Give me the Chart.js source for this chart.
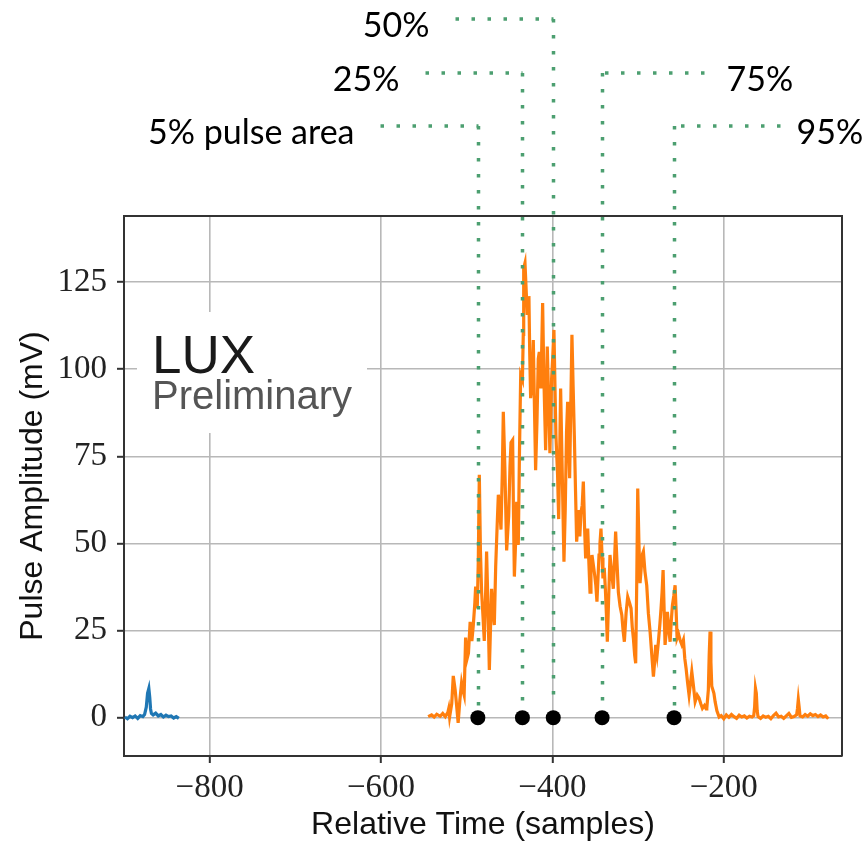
<!DOCTYPE html>
<html>
<head>
<meta charset="utf-8">
<title>Pulse Amplitude</title>
<script src="https://cdn.jsdelivr.net/npm/chart.js@4.4.1/dist/chart.umd.min.js"></script>
<style>
  html, body { margin: 0; padding: 0; background: #fff; }
  canvas { display: block; }
</style>
</head>
<body>
<canvas id="pulse" width="865" height="848"></canvas>
<script>
// baseline trace (blue), early window
const baseX = [-899, -896, -893, -890, -887, -884, -881, -878, -876, -874, -872.5, -871, -870, -869, -868, -866, -863, -860, -857, -854, -851, -848, -845, -842, -839, -836];
const baseY = [0.2, -0.3, 0.4, 0, 0.5, -0.2, 0.6, 0.3, 0.9, 3, 7, 8.4, 6, 2.5, 1.2, 0.8, 1.3, 0.5, 0.9, 0.2, 0.7, 0.3, 0.5, -0.1, 0.3, -0.2];

// main pulse trace (orange)
const pulseX = [
  -545, -541, -538, -535, -531, -528, -525, -522, -521, -520,
  -517.5, -515.7, -513.5, -511.8, -510, -508, -506, -504.5, -503, -501.3,
  -499.5, -498, -496, -494, -492.3, -490.5, -489.6, -487.7, -486.5, -485.3,
  -484, -482.6, -481, -479.5, -478, -476.8, -475, -473.6, -472, -471,
  -469.5, -467.8, -466.2, -464.5, -463.1, -461.5, -460, -458.5, -457.3, -455.5,
  -453.4, -451, -449.5, -448.3, -446.4, -445.5, -444.4, -443, -441.7, -439.8,
  -438.5, -437, -435, -434, -433.5, -432, -430.5, -429.3, -428.3, -427.4,
  -426.5, -425.4, -424, -422.3, -421, -419.6, -418, -416.5, -415.3, -413.4,
  -412.3, -411.4, -410, -407.9, -406, -404.5, -402.9, -400.9, -399.5, -398.2,
  -397, -395.9, -394, -392.7, -391.5, -390.4, -388.5, -386.5, -385, -383.5,
  -382.2, -381, -379.9, -378.5, -377.2, -375.8, -374.4, -373, -371.7, -370.5,
  -369.4, -368, -366.6, -365.2, -363.9, -362.5, -361.2, -360, -358.8, -357.5,
  -356.1, -355, -353.8, -352.3, -350.7, -349.3, -348, -346.8, -345.6, -344.5,
  -343.3, -342, -341, -339.5, -338.2, -337, -335.9, -334.5, -332.8, -331,
  -328.9, -327.5, -326.2, -324.5, -323, -321, -319, -317.5, -316, -314,
  -312.1, -310, -308.2, -306.8, -305.5, -304, -302.8, -301.5, -300.4, -299,
  -297.7, -296, -294.8, -293.8, -292, -289.9, -288, -286, -284, -282.1,
  -280.7, -279.4, -277.8, -276.3, -274.5, -273.2, -272, -270.8, -269.5, -268.5,
  -267, -265.8, -264, -262.6, -261.2, -259.9, -258.3, -256.8, -255.5, -254.5,
  -252.8, -251, -249, -247.1, -245.5, -244, -242.2, -240.5, -238.8, -237.3,
  -235.3, -233.4, -231, -228.8, -226.8, -224.9, -222.5, -220.5, -219.8, -218,
  -217, -216, -215, -214, -213.2, -211.5, -210.1, -208, -205.4, -203,
  -200, -197, -194, -191, -188, -185, -182, -179, -176, -173,
  -170, -167, -165, -164, -163, -162, -161, -160, -157, -154,
  -151, -148, -145, -142, -139, -136, -133, -130, -127, -124,
  -121, -118, -115, -114, -113, -112, -111, -108, -105, -102,
  -99, -96, -93, -90, -87, -84, -81, -78
];
const pulseY = [
  0.3, 0.8, 0.2, 1.0, 0.4, 1.2, 0.3, 1.5, 2.6, 0.2,
  4, 12, 8, 3.5, -1.5, 5, 10, 8, 6.5, 23,
  17, 18.5, 27.5, 22, 26.6, 33, 37.6, 31.4, 45, 69.7,
  48, 36, 29, 22, 35, 47.7, 30, 13.7, 28, 37,
  31, 26.6, 43.3, 55, 64, 60, 54, 70, 87.8, 72,
  48, 58, 72, 79, 79.7, 60, 40.5, 50, 62, 49.6,
  75, 98.4, 97, 110, 129, 130.5, 122, 115.6, 119, 121,
  105, 91.7, 95, 108.4, 90, 71, 85, 103, 105, 94.5,
  108, 119, 98, 76.8, 106.5, 92, 75.9, 97.4, 104, 111.3,
  95, 81, 70, 57, 75, 94.5, 70, 44.8, 60, 82,
  90.7, 80, 68.7, 90, 109.9, 95, 81, 65, 50.5, 55,
  59.6, 52, 59, 61, 67.8, 55, 45.7, 50, 54.3, 45,
  36, 42, 46.7, 44, 41, 38, 33.3, 40, 46.7, 50,
  54.3, 46, 40, 43, 37, 30, 21.8, 33, 46.7, 42,
  37, 45, 53.4, 44, 36, 32, 29.5, 25, 21.8, 30,
  34.7, 33, 31.4, 26, 22.8, 18, 15.6, 40, 65.8, 50,
  38.6, 44, 47, 47.7, 42, 38, 30, 24.7, 18, 11.8,
  16, 20.9, 18, 21.8, 27, 31.4, 36, 42.4, 30, 20.9,
  25, 30.4, 25, 21.8, 28, 32.3, 35, 38, 30, 22.8,
  24, 22.3, 21, 22.3, 17, 14.2, 10, 6.5, 10, 13.2,
  9, 4.6, 6.5, 5.6, 4, 2.7, 3.5, 2.5, 2.7, 8,
  18, 24.7, 16, 9, 8.4, 7, 4.6, 2, 0.2, 0.6,
  -0.3, 0.8, 0.1, 0.9, 0.3, -0.2, 0.7, 0.2, 0.5, -0.1,
  0.4, 0.2, 0.6, 3, 8.4, 7, 2, 0.3, -0.2, 0.5,
  0.1, 0.4, -0.3, 0.6, 1.3, 0.2, 0.4, -0.2, 0.5, 1.2,
  0.1, 0.3, 0.8, 2.5, 5.2, 3, 0.5, 0.2, 0.9, 0.4,
  1.1, 0.6, 0.9, 0.3, 0.8, 0.2, 0.5, -0.3
];

// pulse area quantiles
const quantLabels = ['5% pulse area', '25%', '50%', '75%', '95%'];
const quantX = [-487, -435, -399, -342, -258];

const xTicks = [-800, -600, -400, -200];
const yTicks = [0, 25, 50, 75, 100, 125];

const zip = (xs, ys) => xs.map((x, i) => ({ x: x, y: ys[i] }));
const minus = v => String(v).replace('-', '\u2212');

const GREEN = '#4c9f70';

// label rows above the axes: row height, side of the text, leader length, text gap
const leaderRows = [
  { y: 126, side: 'left', len: 98, gap: 26 },
  { y: 73, side: 'left', len: 97, gap: 26 },
  { y: 19, side: 'left', len: 98, gap: 26 },
  { y: 73, side: 'right', len: 102, gap: 22 },
  { y: 126, side: 'right', len: 106, gap: 16 }
];

const decorations = {
  id: 'decorations',
  beforeDraw(chart) {
    const { ctx, width, height } = chart;
    ctx.save();
    ctx.fillStyle = '#fff';
    ctx.fillRect(0, 0, width, height);
    ctx.restore();
  },
  beforeDatasetsDraw(chart) {
    // LUX Preliminary badge, knocks out the grid behind it
    const { ctx, chartArea: a } = chart;
    ctx.save();
    ctx.fillStyle = '#fff';
    ctx.fillRect(a.left + 13, a.top + 96, 230, 121);
    ctx.textBaseline = 'alphabetic';
    ctx.textAlign = 'left';
    ctx.fillStyle = '#1a1a1a';
    ctx.font = '53px "Liberation Sans"';
    ctx.fillText('LUX', a.left + 28, a.top + 157);
    ctx.fillStyle = '#555';
    ctx.font = '40px "Liberation Sans"';
    ctx.fillText('Preliminary', a.left + 28, a.top + 193);
    ctx.restore();
  },
  afterDraw(chart) {
    const { ctx, chartArea: a, scales } = chart;
    ctx.save();
    // top and right spines
    ctx.strokeStyle = '#333';
    ctx.lineWidth = 2;
    ctx.beginPath();
    ctx.moveTo(a.left, a.top);
    ctx.lineTo(a.right, a.top);
    ctx.lineTo(a.right, a.bottom);
    ctx.stroke();

    // dotted leaders from each quantile up to its label
    const y0 = scales.y.getPixelForValue(0);
    ctx.strokeStyle = GREEN;
    ctx.lineWidth = 3.5;
    ctx.setLineDash([3.5, 12.5]);
    ctx.font = '34px Lato';
    ctx.fillStyle = '#000';
    ctx.textBaseline = 'middle';
    quantX.forEach((q, i) => {
      const row = leaderRows[i];
      const px = Math.round(scales.x.getPixelForValue(q)) + 0.5;
      const end = row.side === 'left' ? px - row.len : px + row.len;
      ctx.beginPath();
      ctx.moveTo(end, row.y);
      ctx.lineTo(px, row.y);
      ctx.stroke();
      ctx.beginPath();
      ctx.moveTo(px, row.y);
      ctx.lineTo(px, y0 - 12);
      ctx.stroke();
      if (row.side === 'left') {
        ctx.textAlign = 'right';
        ctx.fillText(quantLabels[i], end - row.gap, row.y + 7);
      } else {
        ctx.textAlign = 'left';
        ctx.fillText(quantLabels[i], end + row.gap, row.y + 7);
      }
    });
    ctx.restore();
  }
};

const tickFont = { family: '"Liberation Serif"', size: 33, lineHeight: 1.2 };
const titleFont = { family: '"Liberation Sans"', size: 32, lineHeight: 1.2 };
const gridOpts = { color: '#b8b8b8', lineWidth: 1.6, tickLength: 7, tickColor: '#333', tickWidth: 2 };
const borderOpts = { color: '#333', width: 2 };

new Chart(document.getElementById('pulse').getContext('2d'), {
  type: 'line',
  data: {
    datasets: [
      {
        type: 'scatter',
        label: 'quantiles',
        data: quantX.map(x => ({ x: x, y: 0 })),
        pointRadius: 7.5,
        pointBackgroundColor: '#000',
        pointBorderWidth: 0,
        order: 0
      },
      {
        label: 'baseline',
        data: zip(baseX, baseY),
        borderColor: '#1f77b4',
        borderWidth: 3.2,
        pointRadius: 0,
        order: 2
      },
      {
        label: 'pulse',
        data: zip(pulseX, pulseY),
        borderColor: '#ff7f0e',
        borderWidth: 3.2,
        pointRadius: 0,
        order: 1
      }
    ]
  },
  options: {
    responsive: false,
    animation: false,
    devicePixelRatio: 1,
    layout: { padding: { top: 216, right: 23, left: 0, bottom: 0 } },
    plugins: { legend: { display: false }, tooltip: { enabled: false } },
    scales: {
      x: {
        type: 'linear',
        min: -900,
        max: -62,
        afterBuildTicks: s => { s.ticks = xTicks.map(v => ({ value: v })); },
        afterFit: s => { s.height = 92; },
        ticks: { font: tickFont, color: '#222', padding: 6, callback: v => minus(v) },
        grid: gridOpts,
        border: borderOpts,
        title: {
          display: true,
          text: 'Relative Time (samples)',
          font: titleFont,
          color: '#111',
          padding: { top: 0, bottom: 4 }
        }
      },
      y: {
        type: 'linear',
        min: -11,
        max: 144,
        afterBuildTicks: s => { s.ticks = yTicks.map(v => ({ value: v })); },
        afterFit: s => { s.width = 124; },
        ticks: { font: tickFont, color: '#222', padding: 10 },
        grid: gridOpts,
        border: borderOpts,
        title: {
          display: true,
          text: 'Pulse Amplitude (mV)',
          font: titleFont,
          color: '#111',
          padding: { top: 14, bottom: 0 }
        }
      }
    }
  },
  plugins: [decorations]
});
</script>
</body>
</html>
